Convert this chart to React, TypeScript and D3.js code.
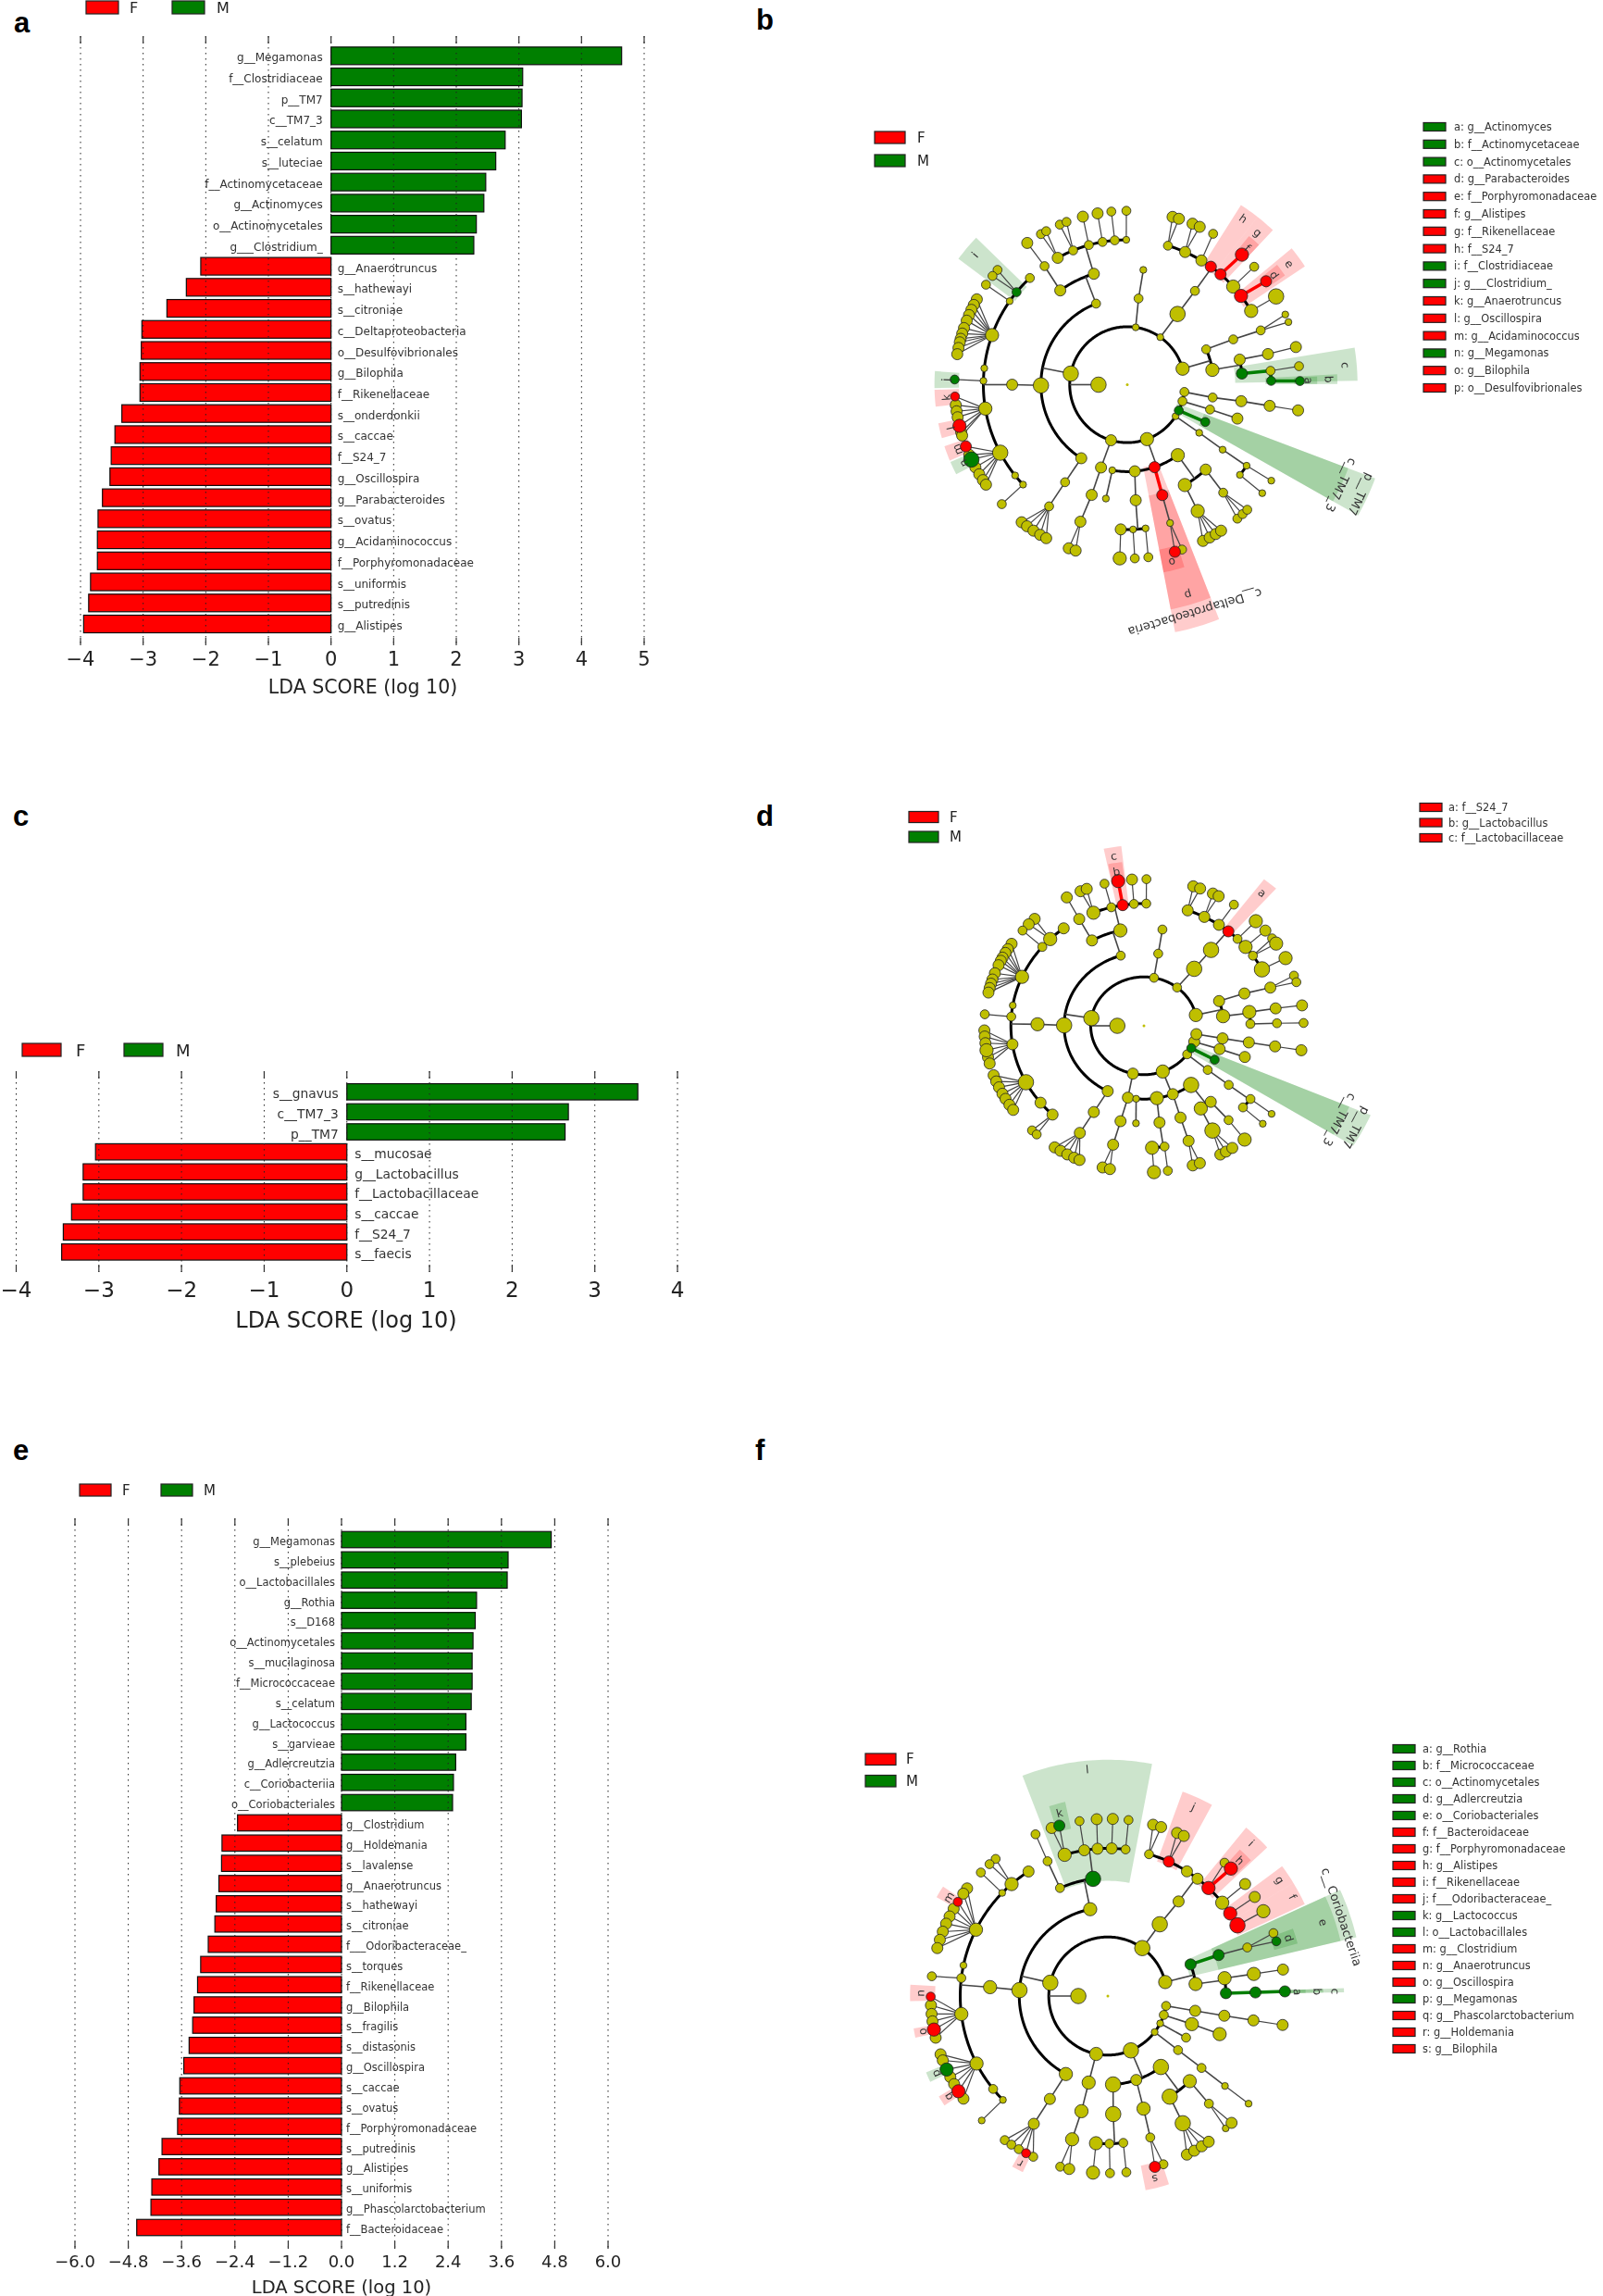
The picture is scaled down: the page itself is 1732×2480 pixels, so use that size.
import React from "react";
import * as d3 from "d3";

// ---------- bar chart data ----------
const aLabels = ["g__Megamonas","f__Clostridiaceae","p__TM7","c__TM7_3","s__celatum","s__luteciae","f__Actinomycetaceae","g__Actinomyces","o__Actinomycetales","g___Clostridium_","g__Anaerotruncus","s__hathewayi","s__citroniae","c__Deltaproteobacteria","o__Desulfovibrionales","g__Bilophila","f__Rikenellaceae","s__onderdonkii","s__caccae","f__S24_7","g__Oscillospira","g__Parabacteroides","s__ovatus","g__Acidaminococcus","f__Porphyromonadaceae","s__uniformis","s__putredinis","g__Alistipes"];
const aValues = [4.64,3.06,3.05,3.04,2.78,2.63,2.47,2.44,2.32,2.28,-2.08,-2.31,-2.62,-3.02,-3.03,-3.05,-3.05,-3.34,-3.45,-3.51,-3.53,-3.65,-3.72,-3.73,-3.73,-3.84,-3.87,-3.95];
const aTicks = [-4,-3,-2,-1,0,1,2,3,4,5];

const cLabels = ["s__gnavus","c__TM7_3","p__TM7","s__mucosae","g__Lactobacillus","f__Lactobacillaceae","s__caccae","f__S24_7","s__faecis"];
const cValues = [3.52,2.68,2.64,-3.04,-3.19,-3.19,-3.33,-3.43,-3.45];
const cTicks = [-4,-3,-2,-1,0,1,2,3,4];

const eLabels = ["g__Megamonas","s__plebeius","o__Lactobacillales","g__Rothia","s__D168","o__Actinomycetales","s__mucilaginosa","f__Micrococcaceae","s__celatum","g__Lactococcus","s__garvieae","g__Adlercreutzia","c__Coriobacteriia","o__Coriobacteriales","g__Clostridium","g__Holdemania","s__lavalense","g__Anaerotruncus","s__hathewayi","s__citroniae","f___Odoribacteraceae_","s__torques","f__Rikenellaceae","g__Bilophila","s__fragilis","s__distasonis","g__Oscillospira","s__caccae","s__ovatus","f__Porphyromonadaceae","s__putredinis","g__Alistipes","s__uniformis","g__Phascolarctobacterium","f__Bacteroidaceae"];
const eValues = [4.72,3.75,3.73,3.04,3.01,2.96,2.94,2.94,2.92,2.80,2.80,2.57,2.52,2.50,-2.34,-2.69,-2.70,-2.76,-2.82,-2.85,-3.00,-3.17,-3.24,-3.32,-3.35,-3.43,-3.55,-3.64,-3.65,-3.69,-4.04,-4.11,-4.27,-4.29,-4.61];
const eTicks = [-6,-4.8,-3.6,-2.4,-1.2,0,1.2,2.4,3.6,4.8,6];

// ---------- cladogram data: [id, parent, ring, angle in degrees, abundance class, state] ----------
// state: 0 not significant, 1 F, 2 M
type Row = [string, string, number, number, number, number?];
type Leaf = [string, number[], number, number?];
type Sec = [number, number, number, number, number, string, number, number?];

const bNodes: Row[] = [
  ["A","",1,180,5],
  ["P1","A",2,16,4],["P2","A",2,55,1],["P3","A",2,81.6,1],["P4","A",2,169,5],["P5","A",2,253.6,3],["P6","A",2,290,4],["P7","A",2,327,1],["P8","A",2,333.5,2,2],["P9","A",2,343.4,2],["P10","A",2,352.8,2],
  ["Q1","P1",3,24,2],["Q2","P1",3,9.8,4],["Q3","P2",3,54.4,5],["Q4","P3",3,82.5,2],["Q5","P4",3,111.2,2],["Q6","P4",3,180.5,5],["Q7","P4",3,237.8,3],["Q8","P5",3,252.3,3],["Q9","P6",3,260,1],["Q10","P6",3,275,3],["Q11","P6",3,288.4,3,1],["Q12","P6",3,305.8,4],["Q13","P7",3,326.4,1],["Q14","P8",3,334.6,2,2],["Q15","P9",3,343.4,2],["Q16","P10",3,351.5,2],
  ["R1","Q1",4,23,2],["R2","Q2",4,12.5,3],["R3","Q2",4,5.5,3,2],["R4","Q3",4,54,2],["R5","Q4",4,82,1],["R6","Q5",4,106.9,3],["R7","Q5",4,125.6,3],["R8","Q6",4,180,3],["R9","Q7",4,237.3,2],["R10","Q8",4,252,3],["R11","Q9",4,259.3,1],["R12","Q10",4,274.2,3],["R13","Q11",4,287.7,3,1],["R14","Q12",4,300,4],["R15","Q12",4,312.9,3],["R16","Q13",4,325.9,1],["R17","Q15",4,343,3],["R18","Q16",4,351.8,3],
  ["S1","R1",5,22,2],["S2","R2",5,12.2,3],["S3","R3",5,5.5,2],["S4","R3",5,1.5,2,2],
  ["S5","R4",5,73.6,2],["S6","R4",5,66.3,3],["S7","R4",5,59,3],["S8","R4",5,54.5,3,1],["S9","R4",5,49.6,3,1],["S10","R4",5,42.6,4],["S11","R4",5,37.8,4,1],["S12","R4",5,30.6,4],
  ["S13","R6",5,118.9,3],["S14","R6",5,112.1,2],["S15","R6",5,105.5,2],["S16","R6",5,99.9,2],["S17","R6",5,95,2],["S18","R6",5,90.4,1],["S19","R7",5,125.1,2],
  ["S20","R8",5,132.6,2],["S21","R8",5,140.3,2,2],["S22","R8",5,144.8,1],["S23","R8",5,160,4],["S24","R8",5,173.5,1],["S25","R8",5,178.5,1],["S26","R8",5,189.5,4],["S27","R8",5,208,5],["S28","R8",5,218.8,1],["S29","R8",5,223.6,1],
  ["S30","R9",5,237.1,2],["S31","R10",5,251,3],["S32","R12",5,267.4,3],["S33","R12",5,272.3,1],["S34","R12",5,277.3,1],["S35","R13",5,287.3,1],["S36","R14",5,299.3,4],["S37","R15",5,311.8,2],["S38","R16",5,326,1],["S39","R16",5,321.5,1],["S40","R18",5,351.6,3],
];
const bLeaves: Leaf[] = [
  ["S1",[23.8,21.1],1],["S2",[12.5],3],["S3",[6.1],2],["S4",[1.2],2,2],
  ["S5",[74.8,72.6],3],["S6",[67.8,65.2],3],["S7",[60.2],2],["S9",[48.4],4,1],["S10",[42.7],2],["S11",[36.5],3,1],["S12",[30.5],5],
  ["S13",[120,118],2],["S14",[113,110.6],2],["S15",[104.9],3],["S16",[99.9],3],["S17",[95.3],2],["S18",[90.3],2],["S19",[125.4],3],
  ["S21",[138.7,141.3],2],["S22",[144.9],2],
  ["S23",[150.6,152.7,154.5,156.4,158.4,161,162.9,164.7,165.9,167.8,169.9],3],["S25",[178.3],2,2],
  ["S26",[186.7,188.8,190.8,195.9,197],3],["S26",[183.9],2,1],["S26",[193.7],4,1],
  ["S27",[203.8,208.4,211,213.3,215.1],3],["S27",[200.8],3,1],["S27",[205.5],5,2],["S29",[223.4],2],
  ["S30",[232.3,234.5,237.1,239.7,242],3],["S31",[250.2,252.6],3],["S32",[267.5],4],["S33",[272.5],2],["S34",[277],2],["S35",[288.5],2],["S35",[286],3,1],
  ["S36",[296,298.5,300.8,302.9],3],["S37",[309.6,311.9,314],2],["S38",[326.5],1],["S39",[321.4],1],["S40",[351.5],3],
];
const bSectors: Sec[] = [
  [52,57.5,4.85,7.35,1,"h",7,54.9],[46.5,52,4.85,7.35,1,"g",6.93,49.2],[46.5,50.5,5.85,6.65,1,"f",6.3],[33.5,39.5,4.85,7.4,1,"e",7],[34.5,38.5,5.85,6.65,1,"d",6.35],
  [1,9.2,3.75,8,2,"c",7.6],[0.2,2.8,4.8,7.3,2,"b",7],[0.2,2.4,5.8,6.6,2,"a",6.3],
  [330.6,339.4,1.85,9.2,2,"p__TM7",8.95],[330.6,339.4,2.85,8.2,2,"c__TM7_3",8.2],
  [281,291.5,2.9,8.7,1,"c__Deltaproteobacteria",8.2,286.7],[281,291.5,3.9,7.9,1,"p",7.55],[281,287.5,5.8,6.6,1,"o",6.31],
  [136,143.5,4.85,7.3,2,"i",6.93],[176,181,5.85,6.7,2,"j",6.3],[181.5,186.5,5.85,6.7,1,"k",6.3],[191.5,196,5.85,6.7,1,"l",6.3],[198.5,203,5.85,6.7,1,"m",6.3],[203.5,207.5,5.85,6.7,2,"n",6.3],
];
const bLegendNames = ["a: g__Actinomyces","b: f__Actinomycetaceae","c: o__Actinomycetales","d: g__Parabacteroides","e: f__Porphyromonadaceae","f: g__Alistipes","g: f__Rikenellaceae","h: f__S24_7","i: f__Clostridiaceae","j: g___Clostridium_","k: g__Anaerotruncus","l: g__Oscillospira","m: g__Acidaminococcus","n: g__Megamonas","o: g__Bilophila","p: o__Desulfovibrionales"];
const bLegendStates = [2,2,2,1,1,1,1,1,2,2,1,1,1,2,1,1];

const dNodes: Row[] = [
  ["A","",1,180,5],
  ["P1","A",2,12.7,4],["P2","A",2,51.5,2],["P3","A",2,79.1,2],["P4","A",2,171,5],["P5","A",2,258,3],["P6","A",2,290.7,4],["P7","A",2,324.3,2],["P8","A",2,332.8,2,2],["P9","A",2,341,3],["P10","A",2,350.2,3],
  ["Q1","P1",3,19.7,3],["Q2","P1",3,7.5,4],["Q3","P2",3,51,5],["Q4","P3",3,79.7,2],["Q5","P4",3,106.9,2],["Q6","P4",3,179.6,5],["Q7","P4",3,243,3],["Q8","P5",3,258.4,3],["Q9","P6",3,264.4,1],["Q10","P6",3,279.3,4],["Q11","P6",3,291.2,3],["Q12","P6",3,306.2,5],["Q13","P7",3,323,2],["Q14","P8",3,332.4,2,2],["Q15","P9",3,341.5,3],["Q16","P10",3,350.1,3],
  ["R1","Q1",4,19.3,3],["R2","Q2",4,8.1,4],["R3","Q2",4,1.1,2],["R4","Q3",4,50.9,5],["R5","Q4",4,80,2],["R6","Q5",4,102.8,4],["R7","Q5",4,119.2,3],["R8","Q6",4,179.1,4],["R9","Q7",4,241.9,3],["R10","Q8",4,257.3,3],["R11","Q9",4,265.7,1],["R12","Q10",4,278.4,3],["R13","Q11",4,290.1,3],["R14","Q12",4,302.3,4],["R15","Q12",4,308.9,3],["R16","Q13",4,322.8,2],["R17","Q15",4,341.4,3],["R18","Q16",4,350.2,3],
  ["S1","R1",5,18.2,3],["S2","R2",5,8.2,3],["S3","R3",5,1.2,2],
  ["S5","R4",5,70.8,3],["S6","R4",5,63,3],["S7","R4",5,55.7,3],["S8","R4",5,50.6,3,1],["S9","R4",5,45.3,2],["S10","R4",5,40.2,4],["S11","R4",5,35,2],["S12","R4",5,27.5,5],
  ["S13","R6",5,112.3,4],["S14","R6",5,104.2,2],["S15","R6",5,99.2,3,1],["S16","R6",5,94.3,2],["S17","R6",5,89,2],["S19","R7",5,119.1,3],
  ["S20","R8",5,127.1,3],["S21","R8",5,134.8,4],["S22","R8",5,139.8,2],["S23","R8",5,156.4,4],["S24","R8",5,170.4,1],["S25","R8",5,175.7,2],["S26","R8",5,188.7,3],["S27","R8",5,207.5,5],["S28","R8",5,219,3],["S29","R8",5,226.6,3],
  ["S30","R9",5,241.2,3],["S31","R10",5,256.6,3],["S32","R12",5,273.5,4],["S33","R12",5,278.9,2],["S35","R13",5,289.6,3],["S36","R14",5,301,5],["S37","R15",5,309.5,2],["S38","R16",5,323.2,2],["S39","R16",5,318.1,2],["S40","R18",5,350.3,3],
];
const dLeaves: Leaf[] = [
  ["S1",[20,17.3],2],["S2",[8],3],["S3",[1.1],2],
  ["S5",[72,69.4],3],["S6",[64.4,62.1],3],["S7",[55.7],2],["S9",[45.5],4],["S10",[40.5],3],["S11",[36.6],2],["S11",[34.1],4],["S12",[27.5],4],
  ["S13",[113.4,111],3],["S14",[104.3],2],["S15",[99.3],4,1],["S16",[94.3],3],["S17",[89.1],2],["S19",[118.9],3],
  ["S21",[133.2,136.2],3],["S22",[139.5],2],
  ["S23",[146,148.5,150.2,152.3,153.7,155.6,159,161.6,163.3,165.1,166.9],3],["S25",[175.5],2],
  ["S26",[181.8,184.2,186.8,192.4,194.9],3],["S26",[189.6],4],
  ["S27",[199.7,202.3,204.8,207.6,209.9,212.6,215],3],["S29",[225.5,227.8],2],
  ["S30",[236,238.5,241.3,244.1,246.2],3],["S31",[255,257.7],3],["S32",[273.6],4],["S33",[278.6],2],["S35",[287.8,290.5],3],
  ["S36",[298.6,300.9,303.6],3],["S37",[309.1],4],["S38",[323.1],1],["S39",[318.1],1],["S40",[350.4],3],
];
const dSectors: Sec[] = [
  [48.5,53,4.85,7.5,1,"a",7.02],[96.6,101.8,4.85,7.4,1,"c",7.03,99.3],[97,101.5,5.85,6.75,1,"b",6.38,99.3],
  [328,336.8,1.85,9.27,2,"p__TM7",9.0],[328,336.8,2.85,8.4,2,"c__TM7_3",8.3],
];
const dLegendNames = ["a: f__S24_7","b: g__Lactobacillus","c: f__Lactobacillaceae"];
const dLegendStates = [1,1,1];

const fNodes: Row[] = [
  ["A","",1,180,5],
  ["P1","A",2,13.7,4],["P2","A",2,54.3,5],["P4","A",2,167,5],["P5","A",2,258.6,4],["P6","A",2,293,5],["P7","A",2,322.4,1],["P8","A",2,332.4,1],["P9","A",2,341.3,2],["P10","A",2,350.4,2],
  ["Q1","P1",3,20.9,3,2],["Q2","P1",3,7.8,4],["Q3","P2",3,54.1,5],["Q5","P4",3,101.5,4],["Q6","P4",3,176.2,5],["Q7","P4",3,241.7,4],["Q8","P5",3,257.5,4],["Q10","P6",3,273.4,5],["Q11","P6",3,288.7,3],["Q12","P6",3,306.8,5],["Q13","P7",3,322.4,2],["Q14","P8",3,332,2],["Q15","P9",3,341.5,4],["Q16","P10",3,350.4,3],
  ["R1","Q1",4,20.3,3,2],["R2","Q2",4,8.7,4],["R3","Q2",4,1.4,3,2],["R4","Q3",4,53.2,3],["R6","Q5",4,97.2,5,2],["R7","Q5",4,113.9,2],["R8","Q6",4,175.7,4],["R9","Q7",4,240.6,3],["R10","Q8",4,257.1,4],["R12","Q10",4,272.6,5],["R13","Q11",4,287.6,4],["R14","Q12",4,301.6,5],["R15","Q12",4,313.9,4],["R16","Q13",4,322.5,2],["R17","Q15",4,341.2,4],["R18","Q16",4,350.4,3],
  ["S1","R1",5,19.2,2],["S2","R2",5,8.6,4],["S3","R3",5,1.4,3,2],
  ["S5","R4",5,73.8,2],["S6","R4",5,65.6,3,1],["S7","R4",5,57.6,3],["S8","R4",5,52.6,3],["S9","R4",5,47,4,1],["S10","R4",5,39.2,4],["S11","R4",5,34,4,1],["S12","R4",5,28.6,5,1],
  ["S13","R6",5,107,4],["S14","R6",5,99.2,3],["S15","R6",5,94,3],["S16","R6",5,88.5,3],["S17","R6",5,83.1,2],["S19","R7",5,114.1,2],
  ["S20","R8",5,122.5,3],["S21","R8",5,130.7,4],["S22","R8",5,135.7,1],["S23","R8",5,153.3,4],["S24","R8",5,168,1],["S25","R8",5,173,2],["S26","R8",5,187,4],["S27","R8",5,207.2,4],["S28","R8",5,219,2],["S29","R8",5,224.7,1],
  ["S30","R9",5,239.9,3],["S31","R10",5,256,4],["S32","R12",5,265.4,4],["S33","R12",5,270.6,2],["S34","R12",5,276,2],["S35","R13",5,286.7,2],["S36","R14",5,300.5,5],["S37","R15",5,313.2,2],["S38","R16",5,322.5,1],["S40","R18",5,350.5,3],
];
const fLeaves: Leaf[] = [
  ["S1",[20.8],2],["S1",[18],2,2],["S2",[8.6],3],["S3",[1.5],3,2],
  ["S5",[75.2,72.5],3],["S6",[67,64.6],3],["S9",[48.8],2],["S9",[46],4,1],["S10",[39.2],3],["S11",[34],3],["S12",[28.6],4],
  ["S13",[108.5],3],["S13",[105.9],3,2],["S14",[99.2],2],["S15",[93.6],3],["S16",[88.4],3],["S17",[83.3],2],["S19",[114.1],2],
  ["S21",[129.3,131.9],2],["S22",[135.8],2],
  ["S23",[142.6,144.7,150.5,153.3,155.9,158.7,161.5,164.3],3],["S23",[147.9],2,1],["S25",[173.6],2],
  ["S26",[183,185.8,188.2,193.6],3],["S26",[180.2],2,1],["S26",[190.9],4,1],
  ["S27",[199.2,201.3,207.2,209.8,215.4],3],["S27",[204.5],4,2],["S27",[212.5],4,1],["S29",[224.6],1],
  ["S30",[234.4,237,239.8,245.1],2],["S30",[242.5],2,1],["S31",[254.4],2],["S31",[257.4],3],["S32",[265.2],4],["S33",[270.7],2],["S34",[276],2],
  ["S35",[285.4],3,1],["S35",[288.3],2],["S36",[296.5,299.2,302,304.7],3],["S37",[311.7],1],["S37",[314.3],3],["S38",[322.6],1],["S40",[350.6],3],
];
const fSectors: Sec[] = [
  [79.2,111.2,3.9,8,2,"l",7.7,95.2],[102.4,107.2,5.8,6.73,2,"k",6.4],[61.4,69.9,4.85,7.37,1,"j",7.03],[43,50.6,4.85,7.38,1,"i",7.1],[43.5,48,5.85,6.68,1,"h",6.4],[31.4,36.7,4.85,7.36,1,"g",7.02],[25,31.4,4.85,7.36,1,"f",7.1],
  [13.3,24.6,2.85,8.65,2,"c__Coriobacteriia",8.36,18.7],[13.3,24.6,3.85,8.1,2,"e",7.7,18.9],[15.5,20,5.85,6.67,2,"d",6.43],
  [0.9,1.9,3.85,8,2,"c",7.7,1.2],[0.9,1.9,4.85,7.3,2,"b",7.1,1.2],[0.9,1.9,5.85,6.7,2,"a",6.42,1.2],
  [146.4,150,5.85,6.7,1,"m",6.34],[176.7,181.5,5.85,6.7,1,"n",6.35],[189.5,192.2,5.85,6.67,1,"o",6.39],[202.8,205.8,5.85,6.68,2,"p",6.38],[210.7,213.8,5.85,6.66,1,"q",6.38],[240.7,244.2,5.85,6.62,1,"r",6.4],[281,288,5.85,6.7,1,"s",6.39],
];
const fLegendNames = ["a: g__Rothia","b: f__Micrococcaceae","c: o__Actinomycetales","d: g__Adlercreutzia","e: o__Coriobacteriales","f: f__Bacteroidaceae","g: f__Porphyromonadaceae","h: g__Alistipes","i: f__Rikenellaceae","j: f___Odoribacteraceae_","k: g__Lactococcus","l: o__Lactobacillales","m: g__Clostridium","n: g__Anaerotruncus","o: g__Oscillospira","p: g__Megamonas","q: g__Phascolarctobacterium","r: g__Holdemania","s: g__Bilophila"];
const fLegendStates = [2,2,2,2,2,1,1,1,1,1,2,2,1,1,1,2,1,1,1];

// ---------- styles ----------
const RED = "#ff0000", GREEN = "#007f00", YELLOW = "#bfbf00";
const FONT = "'DejaVu Sans', sans-serif";
const stateColor = (s: number) => (s === 1 ? RED : s === 2 ? GREEN : YELLOW);
const radiusScale = d3.scaleLinear([1, 5], [3.7, 8.3]);
const fmtTick = (t: number, dec: number) => t.toFixed(dec).replace("-", "\u2212");

function BarPanel(p: any) {
  const x = d3.scaleLinear([p.dMin, p.dMax], [p.xMin, p.xMax]);
  const y = d3.scalePoint<string>(p.labels, [p.yFirst, p.yLast]);
  const gy0 = p.gridTop, gy1 = p.gridBottom;
  return (
    <g fontFamily={FONT}>
      {p.labels.map((l: string, i: number) => {
        const v = p.values[i];
        const yc = y(l)!;
        return (
          <rect key={l} x={Math.min(x(0), x(v))} y={yc - p.barH / 2} width={Math.abs(x(v) - x(0))} height={p.barH}
            fill={v > 0 ? GREEN : RED} stroke="#111" strokeWidth={1.2} />
        );
      })}
      {p.ticks.map((t: number) => (
        <g key={t}>
          <line x1={x(t)} x2={x(t)} y1={gy0} y2={gy1} stroke="#222" strokeWidth={1} strokeDasharray="1.5 4.5" />
          <line x1={x(t)} x2={x(t)} y1={gy0} y2={gy0 + 8} stroke="#333" strokeWidth={1.2} />
          <line x1={x(t)} x2={x(t)} y1={gy1 - 8} y2={gy1} stroke="#333" strokeWidth={1.2} />
          <text x={x(t)} y={p.tickY} fontSize={p.tickFont} textAnchor="middle" dominantBaseline="central" fill="#222">
            {fmtTick(t, p.dec)}
          </text>
        </g>
      ))}
      {p.labels.map((l: string, i: number) => {
        const v = p.values[i];
        return (
          <text key={l} x={v > 0 ? x(0) - p.gapPos : x(0) + p.gapNeg} y={y(l)! + 2} fontSize={p.labelFont}
            textAnchor={v > 0 ? "end" : "start"} dominantBaseline="central" fill="#333">{l}</text>
        );
      })}
      <text x={p.titleX} y={p.titleY} fontSize={p.titleFont} textAnchor="middle" dominantBaseline="central" fill="#222">LDA SCORE (log 10)</text>
      <rect x={p.lx[0]} y={p.ly} width={p.lw} height={p.lh} fill={RED} stroke="#222" strokeWidth={1.2} />
      <text x={p.lx[1]} y={p.ly + p.lh / 2} fontSize={p.lFont} dominantBaseline="central" fill="#222">F</text>
      <rect x={p.lx[2]} y={p.ly} width={p.lw} height={p.lh} fill={GREEN} stroke="#222" strokeWidth={1.2} />
      <text x={p.lx[3]} y={p.ly + p.lh / 2} fontSize={p.lFont} dominantBaseline="central" fill="#222">M</text>
    </g>
  );
}

function Cladogram(p: any) {
  const rx = d3.scaleLinear([0, 1], [0, p.kx]);
  const ry = d3.scaleLinear([0, 1], [0, p.ky]);
  const polar = (ring: number, deg: number): [number, number] => {
    const a = (deg * Math.PI) / 180;
    return [p.cx + rx(ring) * Math.cos(a), p.cy - ry(ring) * Math.sin(a)];
  };
  const line = d3.line();
  const sweep = (ring: number, a0: number, a1: number) => {
    const n = Math.max(2, Math.ceil(Math.abs(a1 - a0)));
    return d3.range(n + 1).map((i) => polar(ring, a0 + ((a1 - a0) * i) / n));
  };
  type N = { id: string; parent: string; ring: number; angle: number; size: number; state: number };
  const nodes: N[] = (p.nodes as Row[]).map(([id, parent, ring, angle, size, state]) => ({ id, parent, ring, angle, size, state: state ?? 0 }));
  (p.leaves as Leaf[]).forEach(([parent, angles, size, state], li) =>
    angles.forEach((angle, ai) => nodes.push({ id: `L${li}_${ai}`, parent, ring: 6, angle, size, state: state ?? 0 })));
  const byId = new Map(nodes.map((n) => [n.id, n] as const));
  const kids = d3.group(nodes.filter((n) => n.parent), (n) => n.parent);

  const arcs: any[] = [];
  const edges: any[] = [];
  kids.forEach((children, pid) => {
    const par = byId.get(pid)!;
    const ring = children[0].ring;
    if (children.length > 1 && ring < 6) {
      const [a0, a1] = d3.extent(children, (c) => c.angle) as [number, number];
      arcs.push(<path key={`a${pid}`} d={line(sweep(ring, a0, a1))!} fill="none" stroke="#000" strokeWidth={3} />);
      edges.push(<path key={`r${pid}`} d={line([polar(par.ring, par.angle), polar(ring, par.angle)])!} stroke="#444" strokeWidth={1.6} />);
      children.forEach((c) => {
        if (c.state && par.state) edges.push(<path key={`h${c.id}`} d={line([polar(par.ring, par.angle), polar(ring, par.angle), polar(c.ring, c.angle)])!} fill="none" stroke={stateColor(c.state)} strokeWidth={3.5} />);
      });
    } else {
      children.forEach((c) => {
        const hi = c.state && par.state;
        edges.push(<path key={`e${c.id}`} d={line([polar(par.ring, par.angle), polar(c.ring, c.angle)])!}
          stroke={hi ? stateColor(c.state) : "#444"} strokeWidth={hi ? 3.5 : ring === 6 ? 1.2 : 1.6} />);
      });
    }
  });

  return (
    <g fontFamily={FONT}>
      {(p.sectors as Sec[]).map(([a0, a1, r0, r1, st], i) => {
        const pts = [...sweep(r1, a0, a1), ...sweep(r0, a1, a0)];
        return <path key={i} d={line(pts)! + "Z"} fill={stateColor(st)} fillOpacity={0.2} />;
      })}
      {arcs}
      {edges}
      <circle cx={p.cx} cy={p.cy} r={1.5} fill={YELLOW} />
      {d3.sort(nodes, (n) => (n.state ? 1 : 0)).map((n) => {
        const [x, y] = polar(n.ring, n.angle);
        return <circle key={n.id} cx={x} cy={y} r={radiusScale(n.size)} fill={stateColor(n.state)} stroke="#222" strokeWidth={0.8} />;
      })}
      {(p.sectors as Sec[]).map(([a0, a1, , , , label, lr, la], i) => {
        const angle = la ?? (a0 + a1) / 2;
        const [x, y] = polar(lr, angle);
        return (
          <text key={i} transform={`translate(${x},${y}) rotate(${90 - angle})`} fontSize={label.length > 2 ? 13 : 12}
            textAnchor="middle" dominantBaseline="central" fill="#333">{label}</text>
        );
      })}
      <rect x={p.lg.x} y={p.lg.y[0]} width={p.lg.w} height={p.lg.h} fill={RED} stroke="#222" strokeWidth={1.2} />
      <text x={p.lg.tx} y={p.lg.y[0] + p.lg.h / 2} fontSize={15} dominantBaseline="central" fill="#222">F</text>
      <rect x={p.lg.x} y={p.lg.y[1]} width={p.lg.w} height={p.lg.h} fill={GREEN} stroke="#222" strokeWidth={1.2} />
      <text x={p.lg.tx} y={p.lg.y[1] + p.lg.h / 2} fontSize={15} dominantBaseline="central" fill="#222">M</text>
      {p.names.map((nm: string, i: number) => {
        const yy = p.box.y0 + i * p.box.step;
        return (
          <g key={nm}>
            <rect x={p.box.x} y={yy - 4.5} width={24} height={9} fill={stateColor(p.states[i])} stroke="#222" strokeWidth={1.2} />
            <text x={p.box.tx} y={yy} fontSize={p.box.font} dominantBaseline="central" fill="#333">{nm}</text>
          </g>
        );
      })}
    </g>
  );
}

const panelLetters: [string, number, number][] = [["a", 15, 24], ["b", 817, 21], ["c", 14, 881], ["d", 817, 881], ["e", 14, 1566], ["f", 816, 1566]];

export default function App() {
  return (
    <svg width={1732} height={2480} style={{ position: "absolute", left: 0, top: 0, background: "#fff" }}>
      <defs>
        <filter id="soft" x="0" y="0" width="100%" height="100%" filterUnits="objectBoundingBox">
          <feGaussianBlur stdDeviation="0.5" />
        </filter>
      </defs>
      {panelLetters.map(([t, x, y]) => (
        <text key={t} x={x} y={y} fontFamily="'Liberation Sans', sans-serif" fontWeight="bold" fontSize={31} dominantBaseline="central">{t}</text>
      ))}
      <g filter="url(#soft)">
        <BarPanel labels={aLabels} values={aValues} ticks={aTicks} dec={0} dMin={-4} dMax={5} xMin={87} xMax={696}
          yFirst={60.3} yLast={674} barH={19} gridTop={39} gridBottom={697} tickY={712} tickFont={21} gapPos={9} gapNeg={7} labelFont={12}
          titleX={392} titleY={742} titleFont={20.5} lx={[93, 140, 186, 234]} ly={1} lw={35} lh={14} lFont={16} />
        <BarPanel labels={cLabels} values={cValues} ticks={cTicks} dec={0} dMin={-4} dMax={4} xMin={17.5} xMax={732}
          yFirst={1179.3} yLast={1352.3} barH={17.5} gridTop={1157} gridBottom={1374} tickY={1393} tickFont={23} gapPos={9} gapNeg={8.5} labelFont={13.8}
          titleX={374} titleY={1426} titleFont={24} lx={[24, 82, 134, 190]} ly={1127} lw={42} lh={14} lFont={18} />
        <BarPanel labels={eLabels} values={eValues} ticks={eTicks} dec={1} dMin={-6} dMax={6} xMin={81} xMax={657}
          yFirst={1663} yLast={2406} barH={17.5} gridTop={1640} gridBottom={2429} tickY={2442} tickFont={18} gapPos={7} gapNeg={5} labelFont={11.5}
          titleX={369} titleY={2470} titleFont={19.5} lx={[86, 132, 174, 220]} ly={1603} lw={34} lh={13} lFont={15} />
        <Cladogram cx={1218} cy={415.5} kx={31.1} ky={31.3} nodes={bNodes} leaves={bLeaves} sectors={bSectors} names={bLegendNames} states={bLegendStates}
          lg={{ x: 945, y: [142, 167], w: 33, h: 13, tx: 991 }} box={{ x: 1538, tx: 1571, y0: 137, step: 18.8, font: 11.4 }} />
        <Cladogram cx={1236} cy={1108} kx={28.75} ky={26.4} nodes={dNodes} leaves={dLeaves} sectors={dSectors} names={dLegendNames} states={dLegendStates}
          lg={{ x: 982, y: [876.5, 898], w: 32, h: 12, tx: 1026 }} box={{ x: 1534, tx: 1565, y0: 872, step: 16.5, font: 11.4 }} />
        <Cladogram cx={1197} cy={2156} kx={31.9} ky={31.9} nodes={fNodes} leaves={fLeaves} sectors={fSectors} names={fLegendNames} states={fLegendStates}
          lg={{ x: 935, y: [1894, 1917.5], w: 33, h: 12.5, tx: 979 }} box={{ x: 1505, tx: 1537, y0: 1889, step: 18, font: 11.4 }} />
      </g>
    </svg>
  );
}
